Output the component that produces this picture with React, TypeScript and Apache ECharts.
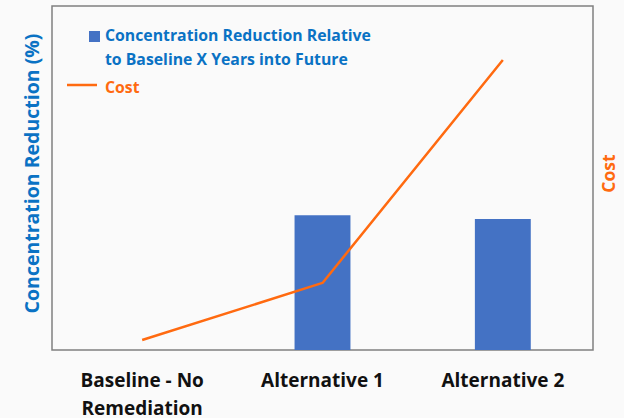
import React, { useEffect, useRef } from "react";
import * as echarts from "echarts";

const categories = ["Baseline - No\nRemediation", "Alternative 1", "Alternative 2"];
const reductionValues = [0, 39.2, 38.1];
const costValues = [2.9, 19.5, 84.3];
const reductionName = "Concentration Reduction Relative\nto Baseline X Years into Future";
const costName = "Cost";
const leftAxisName = "Concentration Reduction (%)";
const rightAxisName = "Cost";

const BLUE_TEXT = "#0a72c4";
const BAR = "#4472c4";
const ORANGE = "#ff6a10";
const FONT = "'Open Sans', Lato, sans-serif";

export default function App() {
  const ref = useRef<HTMLDivElement>(null);
  useEffect(() => {
    if (!ref.current) return;
    const chart = echarts.init(ref.current, undefined, { renderer: "svg" });
    chart.setOption({
      animation: false,
      backgroundColor: "#fafafa",
      textStyle: { fontFamily: FONT },
      grid: {
        left: 52,
        right: 31,
        top: 6,
        bottom: 68,
        containLabel: false,
        outerBoundsMode: "none",
        show: true,
        borderColor: "#808080",
        borderWidth: 1.5,
        backgroundColor: "#fafafa",
      },
      xAxis: {
        type: "category",
        data: categories,
        axisTick: { show: false },
        axisLine: { show: false },
        axisLabel: {
          color: "#111",
          fontSize: 19,
          fontWeight: "bold",
          fontFamily: FONT,
          lineHeight: 28,
          margin: 16,
        },
      },
      yAxis: [
        {
          type: "value",
          min: 0,
          max: 100,
          axisLabel: { show: false },
          axisTick: { show: false },
          axisLine: { show: false },
          splitLine: { show: false },
          name: leftAxisName,
          nameLocation: "middle",
          nameRotate: 90,
          nameGap: 11,
          nameTextStyle: {
            color: BLUE_TEXT,
            fontSize: 19.5,
            fontWeight: "bold",
            fontFamily: FONT,
            padding: [0, 0, 0, 9],
          },
        },
        {
          type: "value",
          min: 0,
          max: 100,
          position: "right",
          axisLabel: { show: false },
          axisTick: { show: false },
          axisLine: { show: false },
          splitLine: { show: false },
          name: rightAxisName,
          nameLocation: "middle",
          nameRotate: 90,
          nameGap: 6,
          nameTextStyle: {
            color: ORANGE,
            fontSize: 17.5,
            fontWeight: "bold",
            fontFamily: FONT,
            padding: [0, 0, 0, 9],
          },
        },
      ],
      series: [
        {
          name: reductionName,
          type: "bar",
          data: reductionValues,
          barWidth: "31%",
          itemStyle: { color: BAR },
          yAxisIndex: 0,
        },
        {
          name: costName,
          type: "line",
          data: costValues,
          yAxisIndex: 1,
          showSymbol: false,
          symbol: "none",
          lineStyle: { color: ORANGE, width: 2.5 },
          itemStyle: { color: ORANGE },
        },
      ],
      graphic: [
        { type: "rect", shape: { x: 89, y: 31, width: 11, height: 11 }, style: { fill: BAR } },
        {
          type: "text",
          x: 105,
          y: 23,
          style: {
            text: reductionName,
            fill: BLUE_TEXT,
            font: `bold 15.8px ${FONT}`,
            lineHeight: 24,
          },
        },
        { type: "line", shape: { x1: 67, y1: 85, x2: 97, y2: 85 }, style: { stroke: ORANGE, lineWidth: 2.5 } },
        {
          type: "text",
          x: 105,
          y: 75,
          style: { text: costName, fill: ORANGE, font: `bold 15.8px ${FONT}`, lineHeight: 24 },
        },
      ],
    });
    return () => chart.dispose();
  }, []);
  return (
    <div
      ref={ref}
      style={{ position: "fixed", left: 0, top: 0, width: 624, height: 418 }}
    />
  );
}
